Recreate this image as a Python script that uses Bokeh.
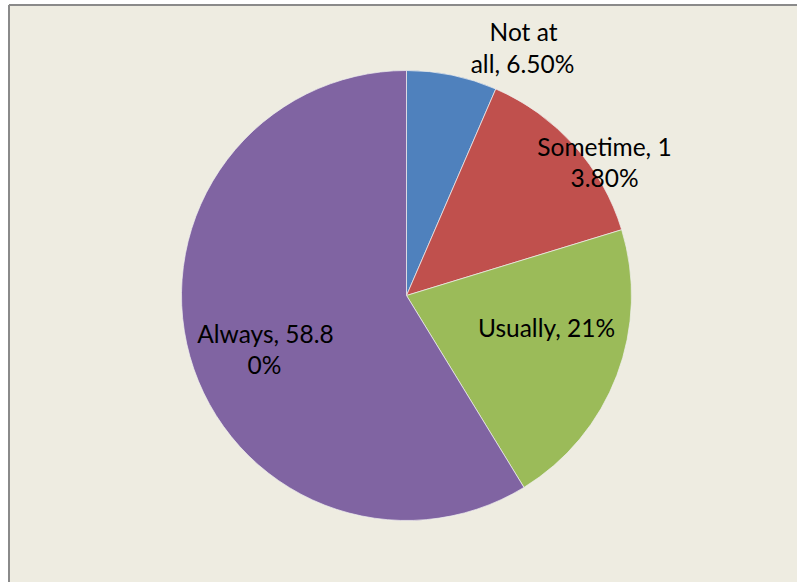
import math
from bokeh.plotting import figure
from bokeh.models import ColumnDataSource, Range1d
from bokeh.core.properties import value
from bokeh.embed import file_html
from bokeh.resources import INLINE

# ---- data ----
categories = ["Not at all", "Sometime", "Usually", "Always"]
percents = [6.5, 13.8, 21.0, 58.8]
colors = ["#4F81BD", "#C0504D", "#9BBB59", "#8064A2"]
label_lines = [["Not at", "all, 6.50%"], ["Sometime, 1", "3.80%"], ["Usually, 21%"], ["Always, 58.8", "0%"]]

# ---- layout (page pixel positions of each label line: centre x, baseline y) ----
label_pos = [[(523, 40), (522, 72)], [(604, 155), (604, 186)], [(546, 336)], [(265, 342), (264, 373)]]
TEXT_SHIFT = -9

W, H = 797, 582
BG = "#EEECE1"

def px(x):
    return x

def py(y):
    return H - y

cx, cy, r = px(406), py(295), 225

total = sum(percents)
starts, ends = [], []
a = math.pi / 2
for v in percents:
    starts.append(a)
    a -= v / total * 2 * math.pi
    ends.append(a)

src = ColumnDataSource(dict(cat=categories, pct=percents, start=starts, end=ends, color=colors,
                            x=[cx] * 4, y=[cy] * 4))

p = figure(width=W, height=H, output_backend="svg", toolbar_location=None,
           x_range=Range1d(0, W), y_range=Range1d(0, H), min_border=0,
           background_fill_color="white", border_fill_color="white", outline_line_color=None)
p.axis.visible = False
p.grid.visible = False

# chart area background with left/top border
p.quad(left=px(8), right=W + 10, top=py(4), bottom=-10, fill_color=BG, line_color=None)
p.segment(x0=[px(8.5), px(8.5)], y0=[py(4.5), py(4.5)], x1=[px(8.5), W + 10], y1=[-10, py(4.5)],
          line_color="#8a8a8a", line_width=2)

p.wedge(x="x", y="y", radius=r, radius_units="screen", start_angle="start", end_angle="end",
        direction="clock", fill_color="color", line_color="#f0f0f0", line_width=0.7, source=src)

tx, ty, tt = [], [], []
for lines, poss in zip(label_lines, label_pos):
    for t, (x, y) in zip(lines, poss):
        tx.append(px(x)); ty.append(py(y + TEXT_SHIFT)); tt.append(t)
p.text(x=tx, y=ty, text=tt, text_align="center", text_baseline="alphabetic",
       text_font=value("Lato"), text_font_size="24.5px", text_color="#000000")

open("out.html", "w").write(file_html(p, INLINE))
